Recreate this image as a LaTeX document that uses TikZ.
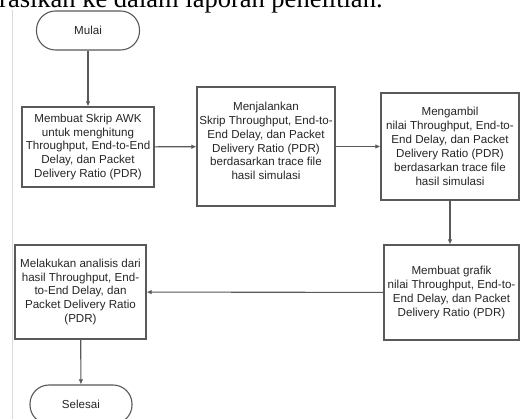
\documentclass[tikz,border=0pt]{standalone}
\usepackage{fontspec}
\setmainfont{Liberation Sans}
\newfontfamily\serifdoc{Liberation Serif}
\usetikzlibrary{arrows.meta}
\tikzset{
  boxtext/.style={inner sep=0pt, align=center, font=\fontsize{11.6}{13.9}\selectfont, text=black!85},
  flowbox/.style={boxtext, draw=black!65, line width=1.1pt, fill=white},
  terminal/.style={flowbox, rounded corners=19pt},
  flowarrow/.style={draw=black!65, line width=1.1pt, -{Latex[length=5pt,width=4.5pt]}},
}
\begin{document}
\begin{tikzpicture}[x=1pt,y=-1pt]
\useasboundingbox (0,0) rectangle (520,419);
\clip (0,0) rectangle (520,419);
\fill[white] (0,0) rectangle (520,419);
% page fragment
\node[anchor=base west, inner sep=0pt, font=\serifdoc\fontsize{26.5}{30}\selectfont] (doctext) at (-1,8) {rasikan ke dalam laporan penelitian.};
\coordinate (mtop) at (12,10);
\coordinate (mbot) at (12,419);
\draw[black!15, line width=0.8pt] (mtop) -- (mbot);
% nodes
\node[terminal, minimum width=103pt, minimum height=39pt] (mulai) at (88,30.5) {Mulai};
\node[flowbox, minimum width=132pt, minimum height=80pt] (b1) at (88,147) {Membuat Skrip AWK\\untuk menghitung\\Throughput, End-to-End\\Delay, dan Packet\\Delivery Ratio (PDR)};
\node[flowbox, minimum width=138pt, minimum height=119pt] (b2) at (266,146.5) {};
\node[boxtext] (b2t) at (266,141) {Menjalankan\\Skrip Throughput, End-to-\\End Delay, dan Packet\\Delivery Ratio (PDR)\\berdasarkan trace file\\hasil simulasi};
\node[flowbox, minimum width=138pt, minimum height=107pt] (b3) at (450,146.5) {Mengambil\\nilai Throughput, End-to-\\End Delay, dan Packet\\Delivery Ratio (PDR)\\berdasarkan trace file\\hasil simulasi};
\node[flowbox, minimum width=135pt, minimum height=95pt] (b4) at (451.5,292.5) {Membuat grafik\\nilai Throughput, End-to-\\End Delay, dan Packet\\Delivery Ratio (PDR)};
\node[flowbox, minimum width=131pt, minimum height=94pt] (b5) at (80.5,292) {Melakukan analisis dari\\hasil Throughput, End-\\to-End Delay, dan\\Packet Delivery Ratio\\(PDR)};
\node[terminal, minimum width=102pt, minimum height=39pt] (selesai) at (81,404.5) {Selesai};
% connectors
\draw[flowarrow] (mulai) -- (b1);
\draw[flowarrow] (b1) -- (b2);
\draw[flowarrow] (b2) -- (b3);
\draw[flowarrow] (b3.south) -- (b3.south |- b4.north);
\draw[flowarrow] (b4) -- (b5);
\draw[flowarrow] (b5) -- (selesai);
\end{tikzpicture}
\end{document}
